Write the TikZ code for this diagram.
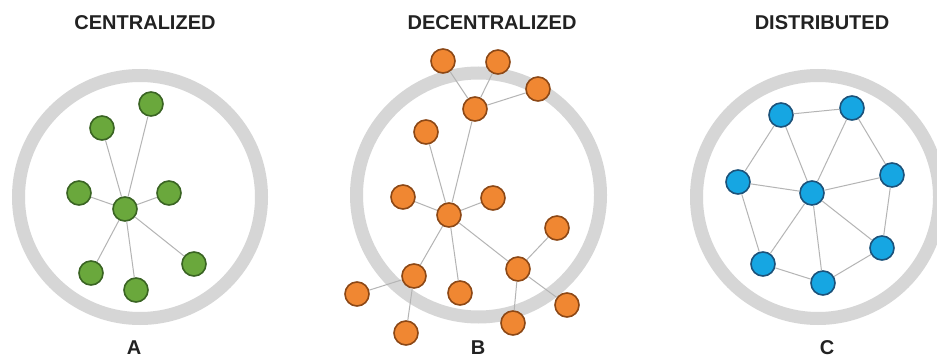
\documentclass[tikz,border=0pt]{standalone}
\usepackage{fontspec}
\setmainfont{Liberation Sans}
\begin{document}
\definecolor{ringgray}{RGB}{214,214,214}
\definecolor{edgegray}{RGB}{180,180,180}
\definecolor{gfill}{RGB}{106,168,60}
\definecolor{gline}{RGB}{58,100,35}
\definecolor{ofill}{RGB}{240,135,50}
\definecolor{oline}{RGB}{140,72,22}
\definecolor{bfill}{RGB}{22,166,226}
\definecolor{bline}{RGB}{28,82,122}
\definecolor{titlecol}{RGB}{34,34,34}
\begin{tikzpicture}[x=1pt,y=-1pt,
  ring/.style={draw=ringgray,line width=13pt},
  link/.style={draw=edgegray,line width=1pt},
  peer/.style={circle,minimum size=24pt,inner sep=0pt,line width=1.6pt},
  gnode/.style={peer,fill=gfill,draw=gline},
  onode/.style={peer,fill=ofill,draw=oline},
  bnode/.style={peer,fill=bfill,draw=bline},
  heading/.style={font=\bfseries\fontsize{20}{24}\selectfont,text=titlecol,inner sep=0pt},
  tag/.style={font=\bfseries\fontsize{20}{24}\selectfont,text=titlecol,inner sep=0pt}]
\fill[white] (0,0) rectangle (937,358);
\useasboundingbox (0,0) rectangle (937,358);

% ---------- centralized ----------
\node[heading] (ta) at (145,23) {CENTRALIZED};
\draw[ring] (140,197) circle[radius=121.5];
\node[gnode] (a0) at (125,209) {};
\node[gnode] (a1) at (151,104) {};
\node[gnode] (a2) at (102,128) {};
\node[gnode] (a3) at (79,193) {};
\node[gnode] (a4) at (169,193) {};
\node[gnode] (a5) at (91,273) {};
\node[gnode] (a6) at (136,290) {};
\node[gnode] (a7) at (194,264) {};
\foreach \n in {a1,a2,a3,a4,a5,a6,a7} \draw[link] (a0) -- (\n);
\node[tag] (la) at (134,348) {A};

% ---------- decentralized ----------
\node[heading] (tb) at (492,23) {DECENTRALIZED};
\draw[ring] (478.5,195) circle[radius=122];
\node[onode] (b1) at (443,61) {};
\node[onode] (b2) at (498,62) {};
\node[onode] (b3) at (538,89) {};
\node[onode] (bh) at (475,109) {};
\node[onode] (b4) at (426,132) {};
\node[onode] (b5) at (403,197) {};
\node[onode] (bc) at (449,215) {};
\node[onode] (b6) at (493,198) {};
\node[onode] (b7) at (557,228) {};
\node[onode] (br) at (518,269) {};
\node[onode] (b8) at (567,305) {};
\node[onode] (b9) at (513,323) {};
\node[onode] (b10) at (460,293) {};
\node[onode] (bl) at (414,276) {};
\node[onode] (b11) at (357,294) {};
\node[onode] (b12) at (406,333) {};
\draw[link] (b1) -- (bh);
\draw[link] (b2) -- (bh);
\draw[link] (b3) -- (bh);
\draw[link] (bh) -- (bc);
\draw[link] (b4) -- (bc);
\draw[link] (b5) -- (bc);
\draw[link] (b6) -- (bc);
\draw[link] (bc) -- (bl);
\draw[link] (bc) -- (b10);
\draw[link] (bc) -- (br);
\draw[link] (br) -- (b7);
\draw[link] (br) -- (b8);
\draw[link] (br) -- (b9);
\draw[link] (bl) -- (b11);
\draw[link] (bl) -- (b12);
\node[tag] (lb) at (478,348) {B};

% ---------- distributed ----------
\node[heading] (tc) at (822,23) {DISTRIBUTED};
\draw[ring] (818,197) circle[radius=121.5];
\node[bnode] (c1) at (781,115) {};
\node[bnode] (c2) at (852,108) {};
\node[bnode] (c3) at (738,182) {};
\node[bnode] (c0) at (812,193) {};
\node[bnode] (c4) at (892,175) {};
\node[bnode] (c5) at (882,248) {};
\node[bnode] (c6) at (763,264) {};
\node[bnode] (c7) at (823,283) {};
\draw[link] (c1) -- (c2);
\draw[link] (c1) -- (c3);
\draw[link] (c1) -- (c0);
\draw[link] (c2) -- (c0);
\draw[link] (c2) -- (c4);
\draw[link] (c3) -- (c0);
\draw[link] (c3) -- (c6);
\draw[link] (c0) -- (c4);
\draw[link] (c0) -- (c6);
\draw[link] (c0) -- (c7);
\draw[link] (c0) -- (c5);
\draw[link] (c4) -- (c5);
\draw[link] (c6) -- (c7);
\draw[link] (c7) -- (c5);
\node[tag] (lc) at (827,348) {C};
\end{tikzpicture}
\end{document}
